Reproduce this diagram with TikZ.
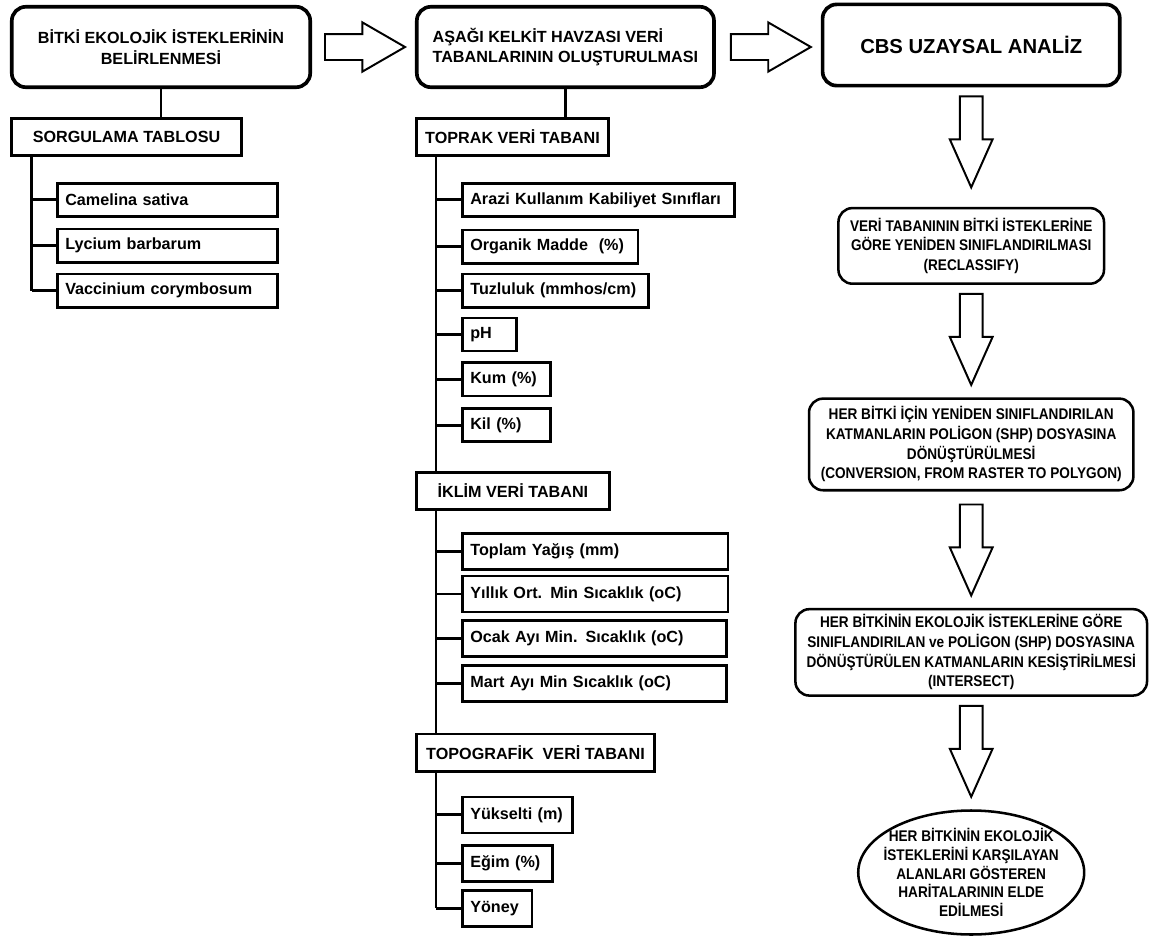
\documentclass[tikz,border=0pt]{standalone}
\usepackage{fontspec}
\setmainfont{Liberation Sans}
\newfontfamily\narrowsf[FakeStretch=0.88]{Liberation Sans}
\usetikzlibrary{positioning,calc,shapes.geometric,shapes.arrows}
\newcommand{\boxfont}{\fontsize{11.5}{14.5}\selectfont\bfseries}
\newcommand{\stepfont}{\narrowsf\fontsize{11}{14}\selectfont\bfseries}
\tikzset{
  titlebox/.style={rectangle,rounded corners=0.35cm,draw,line width=2.6pt,
    minimum width=7.46cm,minimum height=2.01cm,inner sep=0pt,font=\boxfont},
  catbox/.style={rectangle,draw,line width=1.9pt,minimum height=0.93cm,
    inner sep=0pt,font=\boxfont},
  leaf/.style={rectangle,draw,line width=1.9pt,minimum height=0.83cm,
    inner xsep=0.2cm,inner ysep=0pt,text width=#1,align=left,font=\boxfont},
  tall/.style={minimum height=0.9cm},
  stepbox/.style={rectangle,rounded corners=0.35cm,draw,line width=1.8pt,
    align=center,inner sep=0pt,font=\stepfont},
  tree/.style={line width=2.1pt},
  % hollow block arrows between the stages
  harrow/.style={single arrow,draw,line width=1.4pt,inner xsep=0pt,
    inner ysep=0.3cm,minimum width=0pt,minimum height=2.0cm,
    single arrow head extend=0.29cm,single arrow tip angle=60},
  varrow/.style={single arrow,draw,line width=1.4pt,inner ysep=0pt,
    inner xsep=0.26cm,minimum width=0pt,minimum height=2.275cm,
    single arrow head extend=0.25cm,single arrow tip angle=48,
    shape border rotate=270}
}

\begin{document}
\begin{tikzpicture}
  \useasboundingbox (0,0) rectangle (29.2,-23.4);
  % left column: plant requirements
  \node[titlebox,align=center] (bitki) at (4.025,-1.175) {BİTKİ EKOLOJİK İSTEKLERİNİN\\BELİRLENMESİ};
  \node[catbox,minimum width=5.76cm,below=0.7cm of bitki.south west,anchor=north west] (sorgu) {SORGULAMA TABLOSU};
  \node[leaf=5.1cm,below=0.625cm of sorgu.south west,anchor=north west,xshift=1.15cm] (camelina) {Camelina sativa};
  \node[leaf=5.1cm,below=0.25cm of camelina] (lycium) {Lycium barbarum};
  \node[leaf=5.1cm,below=0.225cm of lycium] (vaccinium) {Vaccinium corymbosum};
  \coordinate (ltrunk) at ($(sorgu.south west)+(0.55,0)$);

  % middle column: data bases
  \node[harrow,right=0.3cm of bitki,anchor=tail] (ok1) {};
  \node[titlebox,minimum width=7.43cm,align=left,right=0.2cm of ok1.tip] (asagi) {AŞAĞI KELKİT HAVZASI VERİ\\TABANLARININ OLUŞTURULMASI};
  \node[catbox,minimum width=4.81cm,below=0.7cm of asagi.south west,anchor=north west] (toprak) {TOPRAK VERİ TABANI};
  \node[leaf=6.4cm,below=0.625cm of toprak.south west,anchor=north west,xshift=1.15cm] (arazi) {Arazi Kullanım Kabiliyet Sınıfları};
  \node[leaf=3.99cm,below=0.275cm of arazi.south west,anchor=north west] (organik) {Organik Madde~ (\%)};
  \node[leaf=4.25cm,below=0.2cm of organik.south west,anchor=north west] (tuz) {Tuzluluk (mmhos/cm)};
  \node[leaf=0.96cm,below=0.2cm of tuz.south west,anchor=north west] (ph) {pH};
  \node[leaf=1.81cm,below=0.225cm of ph.south west,anchor=north west] (kum) {Kum (\%)};
  \node[leaf=1.81cm,below=0.25cm of kum.south west,anchor=north west] (kil) {Kil (\%)};
  \node[catbox,minimum width=4.83cm,below=0.7cm of kil.south west,anchor=north west,xshift=-1.15cm] (iklim) {İKLİM VERİ TABANI};
  \node[leaf=6.24cm,tall,below=0.525cm of iklim.south west,anchor=north west,xshift=1.15cm] (toplam) {Toplam Yağış (mm)};
  \node[leaf=6.24cm,tall,below=0.1cm of toplam.south west,anchor=north west] (yillik) {Yıllık Ort. Min Sıcaklık (oC)};
  \node[leaf=6.2cm,tall,below=0.15cm of yillik.south west,anchor=north west] (ocak) {Ocak Ayı Min. Sıcaklık (oC)};
  \node[leaf=6.2cm,tall,below=0.15cm of ocak.south west,anchor=north west] (mart) {Mart Ayı Min Sıcaklık (oC)};
  \node[catbox,minimum width=5.96cm,below=0.75cm of mart.south west,anchor=north west,xshift=-1.15cm] (topo) {TOPOGRAFİK~ VERİ TABANI};
  \node[leaf=2.35cm,tall,below=0.575cm of topo.south west,anchor=north west,xshift=1.15cm] (yuk) {Yükselti (m)};
  \node[leaf=1.86cm,tall,below=0.25cm of yuk.south west,anchor=north west] (egim) {Eğim (\%)};
  \node[leaf=1.34cm,tall,below=0.15cm of egim.south west,anchor=north west] (yoney) {Yöney};
  \coordinate (mtrunk) at ($(toprak.south west)+(0.525,0)$);

  % right column: GIS analysis steps
  \node[harrow,right=0.35cm of asagi,anchor=tail] (ok2) {};
  \node[titlebox,minimum width=7.43cm,minimum height=2.03cm,font=\fontsize{14.4}{17}\selectfont\bfseries,right=0.2cm of ok2.tip,yshift=0.05cm] (cbs) {CBS UZAYSAL ANALİZ};
  \node[varrow,below=0.2cm of cbs,anchor=tail] (ok3) {};
  \node[stepbox,minimum width=6.64cm,minimum height=1.89cm,below=0.425cm of ok3.tip] (reclass) {VERİ TABANININ BİTKİ İSTEKLERİNE\\GÖRE YENİDEN SINIFLANDIRILMASI\\(RECLASSIFY)};
  \node[varrow,below=0.2cm of reclass,anchor=tail] (ok4) {};
  \node[stepbox,minimum width=8.11cm,minimum height=2.29cm,below=0.25cm of ok4.tip] (convert) {HER BİTKİ İÇİN YENİDEN SINIFLANDIRILAN\\KATMANLARIN POLİGON (SHP) DOSYASINA\\DÖNÜŞTÜRÜLMESİ\\(CONVERSION, FROM RASTER TO POLYGON)};
  \node[varrow,below=0.3cm of convert,anchor=tail] (ok5) {};
  \node[stepbox,minimum width=8.79cm,minimum height=2.16cm,below=0.25cm of ok5.tip] (intersect) {HER BİTKİNİN EKOLOJİK İSTEKLERİNE GÖRE\\SINIFLANDIRILAN ve POLİGON (SHP) DOSYASINA\\DÖNÜŞTÜRÜLEN KATMANLARIN KESİŞTİRİLMESİ\\(INTERSECT)};
  \node[varrow,below=0.2cm of intersect,anchor=tail] (ok6) {};
  \node[ellipse,draw,line width=1.8pt,minimum width=5.65cm,minimum height=3.1cm,inner xsep=-0.3cm,inner ysep=-0.2cm,align=center,font=\narrowsf\fontsize{11}{13.3}\selectfont\bfseries,below=0.25cm of ok6.tip] (harita) {HER BİTKİNİN EKOLOJİK\\İSTEKLERİNİ KARŞILAYAN\\ALANLARI GÖSTEREN\\HARİTALARININ ELDE\\EDİLMESİ};

  % tree lines
  \draw[tree] (bitki.south) -- (bitki.south |- sorgu.north);
  \draw[tree] (asagi.south) -- (asagi.south |- toprak.north);
  \draw[tree] (ltrunk) -- (ltrunk |- vaccinium.west);
  \foreach \n in {camelina,lycium,vaccinium}
    \draw[tree] (ltrunk |- \n.west) -- (\n.west);
  \draw[tree] (mtrunk) -- (mtrunk |- iklim.north);
  \draw[tree] (mtrunk |- iklim.south) -- (mtrunk |- topo.north);
  \draw[tree] (mtrunk |- topo.south) -- (mtrunk |- yoney.west);
  \foreach \n in {arazi,organik,tuz,ph,kum,kil,toplam,yillik,ocak,mart,yuk,egim,yoney}
    \draw[tree] (mtrunk |- \n.west) -- (\n.west);
\end{tikzpicture}
\end{document}
